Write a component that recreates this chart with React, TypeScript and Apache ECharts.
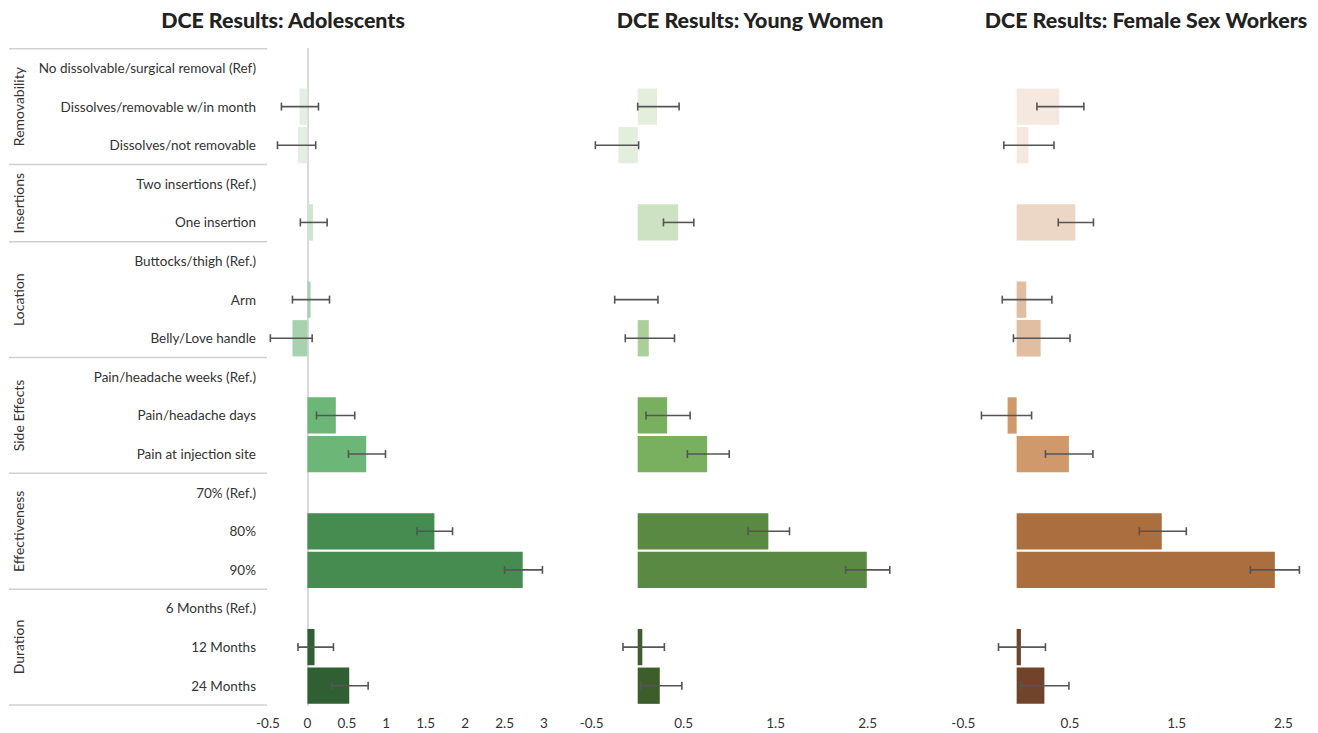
import React, { useEffect, useRef } from "react";
import * as echarts from "echarts";

const categories = [
  "No dissolvable/surgical removal (Ref)",
  "Dissolves/removable w/in month",
  "Dissolves/not removable",
  "Two insertions (Ref.)",
  "One insertion",
  "Buttocks/thigh (Ref.)",
  "Arm",
  "Belly/Love handle",
  "Pain/headache weeks (Ref.)",
  "Pain/headache days",
  "Pain at injection site",
  "70% (Ref.)",
  "80%",
  "90%",
  "6 Months (Ref.)",
  "12 Months",
  "24 Months",
];
const rowGroup = [0, 0, 0, 1, 1, 2, 2, 2, 3, 3, 3, 4, 4, 4, 5, 5, 5];
const groupNames = ["Removability", "Insertions", "Location", "Side Effects", "Effectiveness", "Duration"];
const groupSizes = [3, 2, 3, 3, 3, 3];

const panelTitles = ["DCE Results: Adolescents", "DCE Results: Young Women", "DCE Results: Female Sex Workers"];

const adolBar = [null, -0.1, -0.12, null, 0.07, null, 0.04, -0.19, null, 0.36, 0.745, null, 1.61, 2.73, null, 0.09, 0.53];
const adolLow = [null, -0.33, -0.38, null, -0.09, null, -0.19, -0.47, null, 0.115, 0.52, null, 1.39, 2.5, null, -0.12, 0.31];
const adolHigh = [null, 0.14, 0.105, null, 0.25, null, 0.28, 0.06, null, 0.6, 0.99, null, 1.84, 2.98, null, 0.33, 0.77];

const ywBar = [null, 0.21, -0.21, null, 0.44, null, 0, 0.12, null, 0.32, 0.755, null, 1.42, 2.49, null, 0.05, 0.24];
const ywLow = [null, 0.0, -0.46, null, 0.28, null, -0.25, -0.135, null, 0.09, 0.54, null, 1.2, 2.26, null, -0.16, 0.035];
const ywHigh = [null, 0.45, 0.01, null, 0.61, null, 0.22, 0.4, null, 0.57, 0.995, null, 1.65, 2.74, null, 0.29, 0.48];

const fswBar = [null, 0.4, 0.11, null, 0.55, null, 0.09, 0.225, null, -0.085, 0.49, null, 1.36, 2.42, null, 0.04, 0.26];
const fswLow = [null, 0.19, -0.12, null, 0.39, null, -0.135, -0.03, null, -0.33, 0.27, null, 1.15, 2.19, null, -0.17, 0.04];
const fswHigh = [null, 0.63, 0.35, null, 0.72, null, 0.33, 0.5, null, 0.14, 0.715, null, 1.59, 2.65, null, 0.27, 0.49];

const adolColors = ["#e2efe2", "#cde6cf", "#a6d3ae", "#6cb677", "#468b4f", "#2f5f33"];
const ywColors = ["#e3eedc", "#cde2c3", "#abcf9b", "#79b05f", "#5a8943", "#3d5e2b"];
const fswColors = ["#f4e8df", "#ecd6c6", "#e1bea1", "#cf996b", "#ab6e3f", "#70442a"];

const FONT = "Lato, 'Noto Sans', sans-serif";

export default function App() {
  const ref = useRef<HTMLDivElement>(null);
  useEffect(() => {
    if (!ref.current) return;
    const chart = echarts.init(ref.current, null, { renderer: "svg" });

    const top = 48.7;
    const height = 656.3;
    const rowH = height / categories.length;

    const panels = [
      { bar: adolBar, low: adolLow, high: adolHigh, colors: adolColors, left: 268, width: 276, min: -0.5, max: 3, interval: 0.5, titleX: 283 },
      { bar: ywBar, low: ywLow, high: ywHigh, colors: ywColors, left: 591.7, width: 322, min: -0.5, max: 3, interval: 1, titleX: 750 },
      { bar: fswBar, low: fswLow, high: fswHigh, colors: fswColors, left: 963.3, width: 352.1, min: -0.5, max: 2.8, interval: 1, titleX: 1146 },
    ];

    const grid = panels.map((p) => ({ left: p.left, width: p.width, top, height }));
    const xAxis = panels.map((p, i) => ({
      type: "value",
      gridIndex: i,
      min: p.min,
      max: p.max,
      interval: p.interval,
      axisLine: { show: false },
      axisTick: { show: false },
      splitLine: { show: false },
      axisLabel: {
        color: "#333",
        fontSize: 13.5,
        fontFamily: FONT,
        margin: 11,
        showMaxLabel: i === 0,
      },
    }));
    const yAxis = panels.map((p, i) => ({
      type: "category",
      gridIndex: i,
      data: categories,
      inverse: true,
      axisTick: { show: false },
      axisLine: { show: i === 0, onZero: true, lineStyle: { color: "#d9d9d9", width: 2 } },
      axisLabel: {
        show: i === 0,
        color: "#333",
        fontSize: 13.5,
        fontFamily: FONT,
        margin: 12,
      },
    }));

    const series: any[] = [];
    panels.forEach((p, i) => {
      series.push({
        type: "bar",
        xAxisIndex: i,
        yAxisIndex: i,
        barCategoryGap: "6%",
        data: p.bar.map((v, r) =>
          v === null ? "-" : { value: v, itemStyle: { color: p.colors[rowGroup[r]] } }
        ),
      });
      const errData: any[] = [];
      p.low.forEach((lo, r) => {
        if (lo !== null && p.high[r] !== null) errData.push([lo, p.high[r], r]);
      });
      series.push({
        type: "custom",
        xAxisIndex: i,
        yAxisIndex: i,
        z: 5,
        data: errData,
        encode: { x: [0, 1], y: 2 },
        renderItem: (params: any, api: any) => {
          const lo = api.coord([api.value(0), api.value(2)]);
          const hi = api.coord([api.value(1), api.value(2)]);
          const y = lo[1];
          const h = 4;
          const style = { stroke: "#555", lineWidth: 1.6 };
          return {
            type: "group",
            children: [
              { type: "line", shape: { x1: lo[0], y1: y, x2: hi[0], y2: y }, style },
              { type: "line", shape: { x1: lo[0], y1: y - h, x2: lo[0], y2: y + h }, style },
              { type: "line", shape: { x1: hi[0], y1: y - h, x2: hi[0], y2: y + h }, style },
            ],
          };
        },
      });
    });

    const graphic: any[] = [];
    panelTitles.forEach((t, i) => {
      graphic.push({
        type: "text",
        x: panels[i].titleX,
        y: 20,
        style: {
          text: t,
          fill: "#222",
          font: `900 21.4px ${FONT}`,
          textAlign: "center",
          textVerticalAlign: "middle",
        },
      });
    });
    let acc = 0;
    const bounds = [top];
    groupSizes.forEach((s) => {
      acc += s;
      bounds.push(top + acc * rowH);
    });
    bounds.forEach((b) => {
      graphic.push({
        type: "line",
        shape: { x1: 9, y1: b, x2: 267, y2: b },
        style: { stroke: "#d0d0d0", lineWidth: 1.5 },
      });
    });
    groupNames.forEach((g, gi) => {
      const cy = (bounds[gi] + bounds[gi + 1]) / 2;
      graphic.push({
        type: "text",
        x: 18,
        y: cy,
        rotation: Math.PI / 2,
        style: {
          text: g,
          fill: "#333",
          font: `14px ${FONT}`,
          textAlign: "center",
          textVerticalAlign: "middle",
        },
      });
    });

    chart.setOption({
      animation: false,
      backgroundColor: "#ffffff",
      grid,
      xAxis,
      yAxis,
      series,
      graphic,
    });
    return () => chart.dispose();
  }, []);
  return (
    <div
      ref={ref}
      style={{ position: "fixed", left: 0, top: 0, width: 1318, height: 733 }}
    />
  );
}
